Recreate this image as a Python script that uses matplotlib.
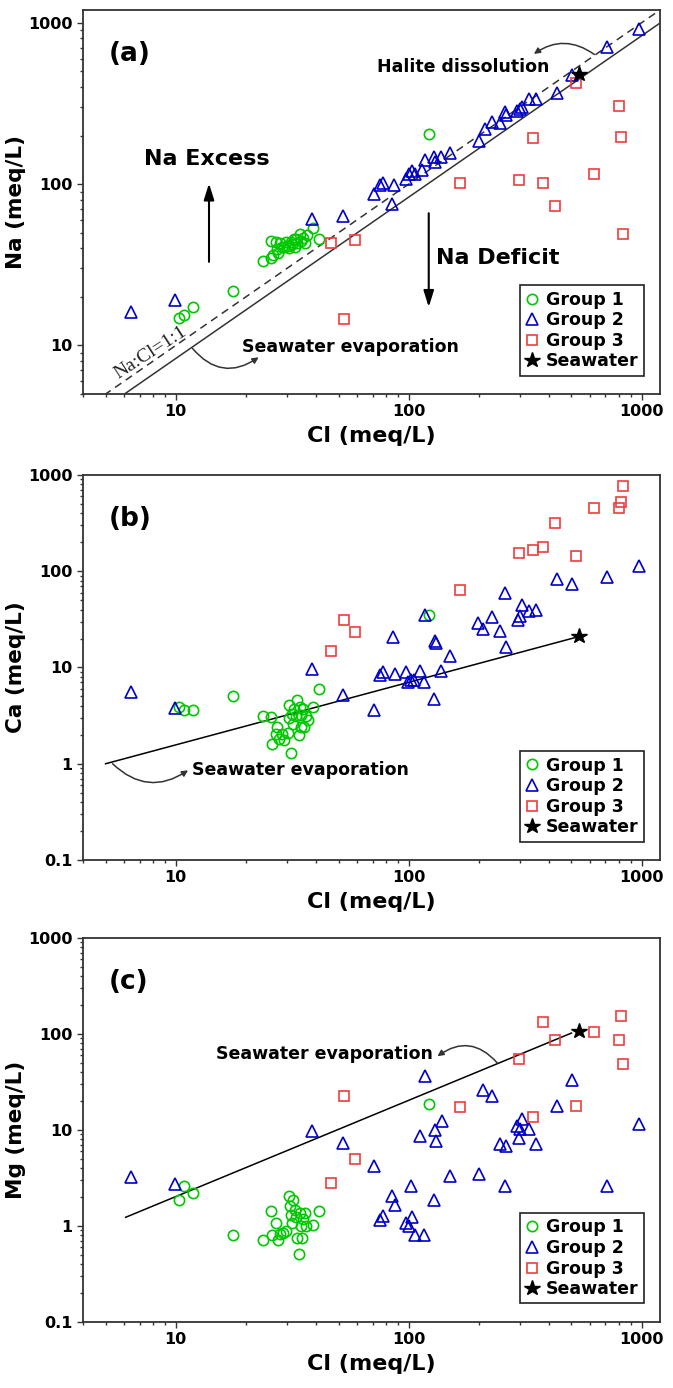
import numpy as np
import matplotlib
matplotlib.use("Agg")
import matplotlib.pyplot as plt
from matplotlib.ticker import LogLocator, NullFormatter

plt.rcParams["font.family"] = ["DejaVu Sans"]
plt.rcParams["font.weight"] = "bold"
plt.rcParams["axes.labelweight"] = "bold"

# ---- values (meq/L) ----
# Group 1
g1_cl_a = [10.3, 10.9, 11.9, 17.7, 23.7, 25.6, 26.1, 27.5, 25.6, 26.9, 28.1, 29.3, 30.2, 31.2, 32.3, 33.3,
           34.1, 34.6, 35.8, 36.7, 38.7, 41.2, 30.6, 28.7, 32.6, 31.5, 33.0, 29.8, 35.2, 27.2, 122]
g1_na = [14.7, 15.5, 17.2, 21.8, 33.4, 34.6, 36.3, 37.2, 44.6, 43.5, 43, 41, 41.5, 44, 46, 43,
         49.4, 44.5, 43.2, 48.3, 53.7, 45.4, 40, 40.5, 41, 42.5, 45.5, 43.8, 46.5, 39.5, 205]
g1_cl_b = [10.3, 10.9, 11.9, 17.7, 41.2, 23.7, 25.6, 25.8, 26.9, 27.3, 27.7, 28.6, 29.3, 30.2, 30.6, 30.6,
           31.2, 31.5, 31.9, 32.3, 32.9, 33.3, 33.7, 34.1, 34.4, 34.6, 35.2, 35.5, 36.2, 37, 39, 122]
g1_ca = [3.86, 3.6, 3.6, 5.06, 5.98, 3.13, 3.08, 1.6, 2.06, 2.42, 1.8, 2.06, 1.78, 2.09, 2.96, 4.07,
         1.28, 3.3, 2.6, 3.7, 3.1, 4.6, 1.99, 3.9, 2.42, 3.2, 3.7, 2.42, 3.1, 2.87, 3.9, 35.5]
g1_cl_c = [10.3, 10.9, 11.9, 17.7, 23.7, 25.6, 25.8, 26.9, 27.5, 28.1, 29, 29.7, 30.6, 31, 31.2, 31.5,
           32, 32.6, 32.9, 33.3, 33.7, 34.1, 34.6, 34.8, 35.2, 35.8, 36.2, 38.7, 41.2, 122]
g1_mg = [1.88, 2.63, 2.21, 0.81, 0.71, 1.42, 0.81, 1.07, 0.72, 0.83, 0.85, 0.88, 2.07, 1.6, 1.31, 1.07,
         1.88, 1.45, 1.23, 0.75, 0.51, 1.36, 1.0, 0.75, 1.17, 1.36, 1.0, 1.03, 1.42, 18.4]

# Group 2
g2_cl_a = [6.43, 9.9, 38.6, 52.5, 71, 75.7, 78, 86.7, 84.9, 97.3, 100.7, 103.8, 106, 114, 117, 128, 130,
           138, 151, 200, 212, 229, 246, 260, 262, 291, 301, 308, 328, 353, 433, 502, 711, 979]
g2_na = [16.1, 19.1, 60.7, 63.4, 86.5, 98.8, 102, 98.8, 75.4, 107, 116, 120, 116, 122, 141, 148, 138,
         148, 156, 185, 219, 241, 239, 280, 269, 282, 292, 301, 339, 337, 367, 477, 710, 918]
g2_cl_b = [6.43, 9.9, 38.6, 52.5, 71, 75.7, 78, 86, 87, 97, 99, 102, 105, 112, 116, 117, 128, 130, 131,
           138, 151, 199, 209, 229, 246, 260, 262, 294, 300, 307, 328, 353, 433, 502, 711, 979]
g2_ca = [5.6, 3.77, 9.6, 5.19, 3.61, 8.37, 9.08, 20.6, 8.6, 9.08, 7.15, 7.4, 7.4, 9.3, 7.1, 35.5, 4.68,
         18.7, 17.8, 9.3, 13.2, 29, 25.1, 33.3, 23.8, 59.7, 16.2, 30.9, 34.6, 44.4, 38.4, 40, 82.2, 74.2,
         87.7, 113]
g2_cl_c = [6.43, 9.9, 38.6, 52.5, 71, 75.7, 78, 85, 87, 97, 100, 102, 103, 106, 112, 116, 117, 128, 130,
           131, 139, 151, 200, 209, 229, 246, 262, 260, 291, 298, 300, 308, 328, 353, 433, 502, 711, 979]
g2_mg = [3.2, 2.7, 9.7, 7.3, 4.19, 1.16, 1.28, 2.07, 1.67, 1.07, 0.99, 2.59, 1.23, 0.81, 8.6, 0.81, 36.2,
         1.88, 10, 7.6, 12.5, 3.29, 3.5, 25.9, 22.4, 7.2, 6.8, 2.59, 10.9, 8.3, 10.2, 13, 10.2, 7.2, 17.7,
         33.4, 2.59, 11.4]

# Group 3 (same samples in all panels)
g3_cl = [46.4, 52.7, 58.6, 166, 298, 341, 376, 425, 521, 627, 802, 814, 836]
g3_na = [42.9, 14.5, 45, 101, 106, 193, 102, 73.5, 424, 116, 306, 197, 48.8]
g3_ca = [14.9, 30.9, 23.4, 63.5, 156, 166, 180, 316, 144, 449, 449, 527, 774]
g3_mg = [2.8, 22.8, 4.99, 17.4, 55, 13.6, 133, 86, 17.7, 105, 87, 155, 48]

# Seawater
sw_cl = 540
sw_na = 484
sw_ca = 21
sw_mg = 108

# reference lines
halite_ratio = 1.0          # Na:Cl = 1:1
evap_na_ratio = 0.83        # seawater evaporation line in (a)
evap_ca_cl = [5.0, 540]     # seawater evaporation line in (b)
evap_ca = [1.0, 21]
evap_mg_cl = [6.1, 500]     # seawater evaporation line in (c)
evap_mg = [1.23, 102]

xlim = (4, 1200)

GREEN = "#00C800"
BLUE = "#0000CC"
RED = "#F03C3C"
DARK = "#333333"

fig = plt.figure(figsize=(6.73, 13.88), dpi=100)
left, width = 83 / 673, 577 / 673
ax_a = fig.add_axes([left, 0.7161, width, 0.2767])
ax_b = fig.add_axes([left, 0.3804, width, 0.2774])
ax_c = fig.add_axes([left, 0.0476, width, 0.2767])


def draw_points(ax, g1x, g1y, g2x, g2y, g3y, swy):
    ax.plot(g1x, g1y, "o", ms=7.4, mfc="none", mec=GREEN, mew=1.2, label="Group 1")
    ax.plot(g2x, g2y, "^", ms=8.7, mfc="none", mec=BLUE, mew=1.2, label="Group 2")
    ax.plot(g3_cl, g3y, "s", ms=6.6, mfc="none", mec=RED, mew=1.2, label="Group 3")
    ax.plot([sw_cl], [swy], "*", ms=11.5, color="k", label="Seawater")
    ax.legend(loc="lower right", bbox_to_anchor=(0.972, 0.048), borderaxespad=0,
              fontsize=12.5, frameon=True, fancybox=False, edgecolor="#222222",
              framealpha=1, handlelength=0.8, handletextpad=0.4, labelspacing=0.15,
              borderpad=0.3).get_frame().set_linewidth(1.2)


def style_axes(ax, ylim, yticks, ylabels, ylabel, tag):
    ax.set_xscale("log")
    ax.set_yscale("log")
    ax.set_xlim(*xlim)
    ax.set_ylim(*ylim)
    ax.set_xticks([10, 100, 1000], ["10", "100", "1000"])
    ax.set_yticks(yticks, ylabels)
    ax.xaxis.set_minor_locator(LogLocator(base=10, subs=np.arange(2, 10)))
    ax.yaxis.set_minor_locator(LogLocator(base=10, subs=np.arange(2, 10)))
    ax.xaxis.set_minor_formatter(NullFormatter())
    ax.yaxis.set_minor_formatter(NullFormatter())
    ax.tick_params(which="both", direction="out", top=False, right=False, color=DARK,
                   width=1.0, labelsize=11.5)
    ax.tick_params(which="major", length=4.5, pad=3)
    ax.tick_params(which="minor", length=2.5)
    for s in ax.spines.values():
        s.set_linewidth(1.3)
        s.set_color(DARK)
    ax.set_xlabel("Cl (meq/L)", fontsize=16, labelpad=5)
    ax.set_ylabel(ylabel, fontsize=15.5)
    ax.yaxis.set_label_coords(-0.098, 0.5)
    ax.text(0.045, 0.885, tag, transform=ax.transAxes, fontsize=19, ha="left", va="center")


def curved_arrow(ax, start, end, rad):
    ax.annotate("", xy=end, xytext=start,
                arrowprops=dict(arrowstyle="-|>", connectionstyle=f"arc3,rad={rad}",
                                color=DARK, lw=1.1, mutation_scale=9, shrinkA=0, shrinkB=0))


def straight_arrow(ax, start, end):
    ax.annotate("", xy=end, xytext=start,
                arrowprops=dict(arrowstyle="-|>,head_length=0.7,head_width=0.22",
                                color="k", lw=1.5, mutation_scale=14, shrinkA=0, shrinkB=0))


# ---- (a) Na vs Cl ----
cl_ref = np.array(xlim)
ax_a.plot(cl_ref, cl_ref * halite_ratio, ls=(0, (5, 3.5)), color=DARK, lw=1.1)
ax_a.plot(cl_ref, cl_ref * evap_na_ratio, "-", color=DARK, lw=1.1)
draw_points(ax_a, g1_cl_a, g1_na, g2_cl_a, g2_na, g3_na, sw_na)
style_axes(ax_a, (5, 1200), [10, 100, 1000], ["10", "100", "1000"], "Na (meq/L)", "(a)")
ax_a.text(13.6, 143, "Na Excess", fontsize=16, ha="center", va="center")
ax_a.text(131, 34.6, "Na Deficit", fontsize=16, ha="left", va="center")
straight_arrow(ax_a, (13.9, 33), (13.9, 101))
straight_arrow(ax_a, (122, 66), (122, 17.3))
ax_a.text(73, 530, "Halite dissolution", fontsize=12.5, ha="left", va="center")
curved_arrow(ax_a, (627, 636), (345, 641), 0.35)
ax_a.text(19.2, 9.8, "Seawater evaporation", fontsize=12.5, ha="left", va="center")
curved_arrow(ax_a, (11.8, 9.6), (22.7, 8.45), 0.45)
ax_a.text(7.8, 9.0, "Na:Cl=1:1", fontsize=14, family="Liberation Serif", weight="normal",
          rotation=33, ha="center", va="center", color="#222222")

# ---- (b) Ca vs Cl ----
ax_b.plot(evap_ca_cl, evap_ca, "-", color="k", lw=1.1)
draw_points(ax_b, g1_cl_b, g1_ca, g2_cl_b, g2_ca, g3_ca, sw_ca)
style_axes(ax_b, (0.1, 1000), [0.1, 1, 10, 100, 1000], ["0.1", "1", "10", "100", "1000"],
           "Ca (meq/L)", "(b)")
ax_b.text(11.8, 0.855, "Seawater evaporation", fontsize=12.5, ha="left", va="center")
curved_arrow(ax_b, (5.36, 1.0), (11.3, 0.855), 0.4)

# ---- (c) Mg vs Cl ----
ax_c.plot(evap_mg_cl, evap_mg, "-", color="k", lw=1.1)
draw_points(ax_c, g1_cl_c, g1_mg, g2_cl_c, g2_mg, g3_mg, sw_mg)
style_axes(ax_c, (0.1, 1000), [0.1, 1, 10, 100, 1000], ["0.1", "1", "10", "100", "1000"],
           "Mg (meq/L)", "(c)")
ax_c.text(127, 61, "Seawater evaporation", fontsize=12.5, ha="right", va="center")
curved_arrow(ax_c, (240, 49.9), (133, 58.5), 0.45)

fig.savefig("out.png", dpi=100)
